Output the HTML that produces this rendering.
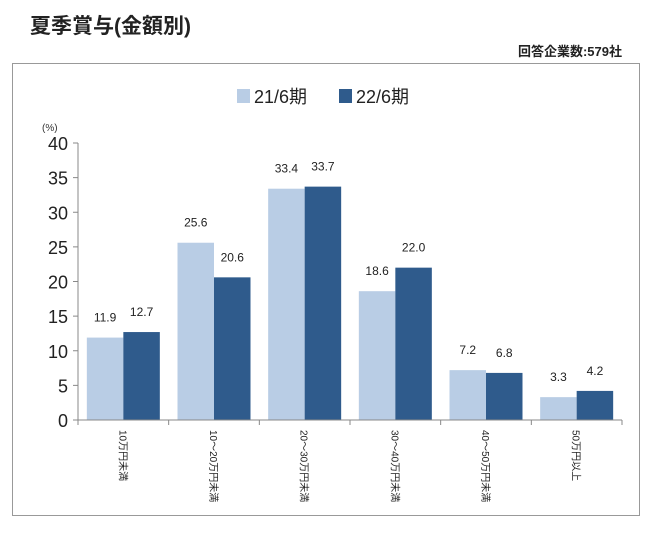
<!DOCTYPE html>
<html><head><meta charset="utf-8"><style>
body{margin:0;background:#fff;width:650px;height:528px;overflow:hidden;font-family:"Liberation Sans","Noto Sans CJK JP",sans-serif}
</style></head><body>
<svg width="650" height="528" font-family="Liberation Sans, Noto Sans CJK JP, sans-serif">
<text x="30" y="33" font-size="21" font-weight="bold" fill="#222">夏季賞与(金額別)</text>
<text x="622" y="56" font-size="13" font-weight="bold" fill="#222" text-anchor="end">回答企業数:579社</text>
<rect x="12.5" y="63.5" width="627" height="452" fill="#fff" stroke="#999"/>
<g>
<rect x="237" y="89" width="13" height="14" fill="#b9cde5"/>
<text x="254" y="103" font-size="18" fill="#222">21/6期</text>
<rect x="339" y="89" width="13" height="14" fill="#2f5b8c"/>
<text x="356" y="103" font-size="18" fill="#222">22/6期</text>
</g>
<text x="42" y="131" font-size="10" fill="#333">(%)</text>
<g id="g"></g>
</svg>
<script>
const categories=["10万円未満","10～20万円未満","20～30万円未満","30～40万円未満","40～50万円未満","50万円以上"];
const series21=[11.9,25.6,33.4,18.6,7.2,3.3];
const series22=[12.7,20.6,33.7,22.0,6.8,4.2];
const yTicks=[0,5,10,15,20,25,30,35,40];
const NS="http://www.w3.org/2000/svg";
const g=document.getElementById('g');
const x0=78,x1=622,y0=420,yTop=143,yMax=40;
const cw=(x1-x0)/categories.length;
const y=v=>y0-(v/yMax)*(y0-yTop);
function el(t,a,txt){const e=document.createElementNS(NS,t);for(const k in a)e.setAttribute(k,a[k]);if(txt!=null)e.textContent=txt;g.appendChild(e);return e;}
let e=el('line',{x1:x0,y1:yTop,x2:x0,y2:y0,stroke:'#888'});


yTicks.forEach(t=>{
 let l=el('line',{x1:x0-5,x2:x0,y1:y(t),y2:y(t),stroke:'#888'});
 
 
 let s=el('text',{x:x0-10,y:y(t)+7,'font-size':18,'text-anchor':'end',fill:'#222'},t);
 
 
});
categories.forEach((c,i)=>{
 const cx=x0+i*cw, bw=36.5, bx=cx+cw/2-bw;
 let b1=el('rect',{x:bx,y:y(series21[i]),width:bw,height:y0-y(series21[i]),fill:'#b9cde5'});
 
 
 let b2=el('rect',{x:bx+bw,y:y(series22[i]),width:bw,height:y0-y(series22[i]),fill:'#2f5b8c'});
 
 
 let v1=el('text',{x:bx+bw/2,y:y(series21[i])-16,'font-size':12,'text-anchor':'middle',fill:'#222'},series21[i].toFixed(1));
 
 
 let v2=el('text',{x:bx+bw*1.5,y:y(series22[i])-16,'font-size':12,'text-anchor':'middle',fill:'#222'},series22[i].toFixed(1));
 
 
 let lab=el('text',{x:0,y:0,'font-size':10,fill:'#222',transform:`translate(${cx+cw/2-4},${y0+10}) rotate(90)`},c);
 
 
});
for(let i=0;i<=categories.length;i++){
 let t=el('line',{x1:x0+i*cw,x2:x0+i*cw,y1:y0,y2:y0+5,stroke:'#888'});
 
 
}
e=el('line',{x1:x0,y1:y0,x2:x1,y2:y0,stroke:'#888'});


</script>
</body></html>
